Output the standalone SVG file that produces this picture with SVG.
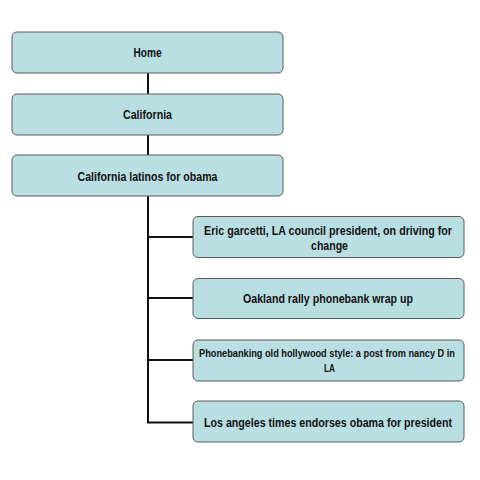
<svg xmlns="http://www.w3.org/2000/svg" width="480" height="480" viewBox="0 0 480 480">
<style>
.box{fill:#badfe2;stroke:#5a5a5a;stroke-width:1}
.t{font-family:"Liberation Sans",Arial,sans-serif;font-weight:bold;font-size:12px;fill:#111;text-anchor:middle}
.s{font-size:11px}
.c{stroke:#111;stroke-width:2;fill:none}
</style>
<rect width="480" height="480" fill="#fff"/>
<g id="connectors">
<line class="c" x1="148" y1="73" x2="148" y2="94"/>
<line class="c" x1="148" y1="135" x2="148" y2="155"/>
<path class="c" d="M148 196 V422.5 H193 M147 237 H193 M147 298 H193 M147 360 H193"/>
</g>
<g id="home"><rect class="box" x="12" y="32" width="271" height="41" rx="5"/><text class="t" transform="translate(147.5 57) scale(0.85 1)" textLength="33" lengthAdjust="spacingAndGlyphs">Home</text></g>
<g id="california"><rect class="box" x="12" y="94" width="271" height="41" rx="5"/><text class="t" transform="translate(147.5 119) scale(0.85 1)" textLength="57.6" lengthAdjust="spacingAndGlyphs">California</text></g>
<g id="latinos"><rect class="box" x="12" y="155" width="271" height="41" rx="5"/><text class="t" transform="translate(147.5 181) scale(0.85 1)" textLength="164.7" lengthAdjust="spacingAndGlyphs">California latinos for obama</text></g>
<g id="garcetti"><rect class="box" x="193" y="216.5" width="271" height="41" rx="5"/><text class="t" transform="translate(328 235) scale(0.85 1)" textLength="291.8" lengthAdjust="spacingAndGlyphs">Eric garcetti, LA council president, on driving for</text><text class="t" transform="translate(329.5 250) scale(0.85 1)" textLength="43.5" lengthAdjust="spacingAndGlyphs">change</text></g>
<g id="oakland"><rect class="box" x="193" y="278.5" width="271" height="40" rx="5"/><text class="t" transform="translate(328 303) scale(0.85 1)" textLength="200" lengthAdjust="spacingAndGlyphs">Oakland rally phonebank wrap up</text></g>
<g id="phonebanking"><rect class="box" x="193" y="340" width="271" height="41" rx="5"/><text class="t s" transform="translate(327 357) scale(0.85 1)" textLength="301" lengthAdjust="spacingAndGlyphs">Phonebanking old hollywood style: a post from nancy D in</text><text class="t s" transform="translate(329.5 372) scale(0.85 1)" textLength="13" lengthAdjust="spacingAndGlyphs">LA</text></g>
<g id="latimes"><rect class="box" x="193" y="401" width="271" height="41" rx="5"/><text class="t" transform="translate(328 427) scale(0.85 1)" textLength="291.8" lengthAdjust="spacingAndGlyphs">Los angeles times endorses obama for president</text></g>
</svg>
